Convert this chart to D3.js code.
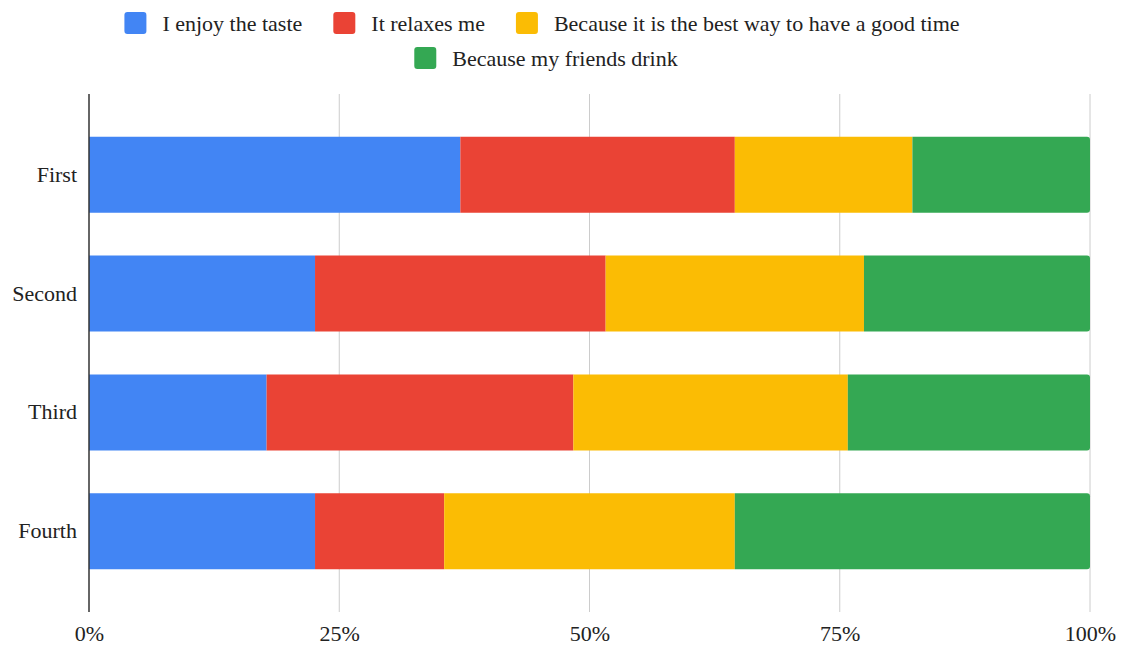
<!DOCTYPE html>
<html>
<head>
<meta charset="utf-8">
<script src="https://cdn.jsdelivr.net/npm/d3@7"></script>
<style>
  body { margin: 0; background: #fff; }
  svg { display: block; }
</style>
</head>
<body>
<svg id="chart" width="1127" height="646"></svg>
<script>
// answers per rank (62 respondents each)
var ranks = ["First", "Second", "Third", "Fourth"];
var reasons = ["I enjoy the taste", "It relaxes me", "Because it is the best way to have a good time", "Because my friends drink"];
var colors = ["#4285f4", "#ea4335", "#fbbc04", "#34a853"];
var taste   = [23, 14, 11, 14];
var relax   = [17, 18, 19, 8];
var goodTime = [11, 16, 17, 18];
var friends = [11, 14, 15, 22];
var tickValues = [0, 0.25, 0.5, 0.75, 1];
var tickLabels = ["0%", "25%", "50%", "75%", "100%"];

var series = [taste, relax, goodTime, friends];
var data = ranks.map(function(r, i) {
  var row = { rank: r };
  reasons.forEach(function(k, j) { row[k] = series[j][i]; });
  return row;
});

var margin = {top: 94, right: 37, bottom: 34, left: 89},
    width = 1127, height = 646;

var svg = d3.select("svg#chart");
var font = "'Liberation Serif', 'Times New Roman', serif";

var x = d3.scaleLinear().domain([0, 1]).range([margin.left, width - margin.right]);
var y = d3.scaleBand().domain(ranks).range([margin.top, height - margin.bottom]).paddingInner(0.36).paddingOuter(0.36);

var stacked = d3.stack().keys(reasons).offset(d3.stackOffsetExpand)(data);

// gridlines
svg.append("g")
  .selectAll("line")
  .data(tickValues.slice(1))
  .join("line")
    .attr("x1", d => x(d)).attr("x2", d => x(d))
    .attr("y1", margin.top).attr("y2", height - margin.bottom)
    .attr("stroke", "#cccccc").attr("stroke-width", 1);

// bars
var last = reasons.length - 1;
svg.append("g")
  .selectAll("g")
  .data(stacked)
  .join("g")
    .attr("fill", (d, i) => colors[i])
  .selectAll("path")
  .data(d => d.map(v => Object.assign(v, {key: d.key, idx: d.index})))
  .join("path")
    .attr("d", function(d) {
      var x0 = x(d[0]), x1 = x(d[1]), y0 = y(d.data.rank), h = y.bandwidth();
      if (d.idx !== last) return `M${x0},${y0}H${x1}V${y0 + h}H${x0}Z`;
      var r = 3;
      return `M${x0},${y0}H${x1 - r}Q${x1},${y0} ${x1},${y0 + r}V${y0 + h - r}Q${x1},${y0 + h} ${x1 - r},${y0 + h}H${x0}Z`;
    });

// baseline axis
svg.append("line")
  .attr("x1", x(0)).attr("x2", x(0))
  .attr("y1", margin.top).attr("y2", height - margin.bottom)
  .attr("stroke", "#333").attr("stroke-width", 1.5);

// x axis labels
svg.append("g")
  .attr("transform", `translate(0,${height - margin.bottom + 10})`)
  .call(d3.axisBottom(x).tickValues(tickValues).tickFormat((d, i) => tickLabels[i]).tickSize(0))
  .call(g => g.select(".domain").remove())
  .call(g => g.selectAll("text")
    .attr("font-family", font).attr("font-size", 22).attr("fill", "#222"));

// y axis labels
svg.append("g")
  .attr("transform", `translate(${margin.left - 9},0)`)
  .call(d3.axisLeft(y).tickSize(0))
  .call(g => g.select(".domain").remove())
  .call(g => g.selectAll("text")
    .attr("font-family", font).attr("font-size", 22).attr("fill", "#222"));

// legend
var rows = [[0, 1, 2], [3]];
var rowY = [23, 58];
var rowCenter = [542, 546];
rows.forEach(function(items, ri) {
  var g = svg.append("g");
  var cx = 0;
  items.forEach(function(k, n) {
    if (n > 0) cx += 31;
    g.append("rect")
      .attr("x", cx).attr("y", rowY[ri] - 11)
      .attr("width", 22).attr("height", 22).attr("rx", 3)
      .attr("fill", colors[k]);
    var t = g.append("text")
      .attr("x", cx + 38).attr("y", rowY[ri]).attr("dy", "0.35em")
      .attr("font-family", font).attr("font-size", 22).attr("fill", "#222")
      .text(reasons[k]);
    cx += 38 + t.node().getComputedTextLength();
  });
  g.attr("transform", `translate(${rowCenter[ri] - cx / 2},0)`);
});
</script>
</body>
</html>
